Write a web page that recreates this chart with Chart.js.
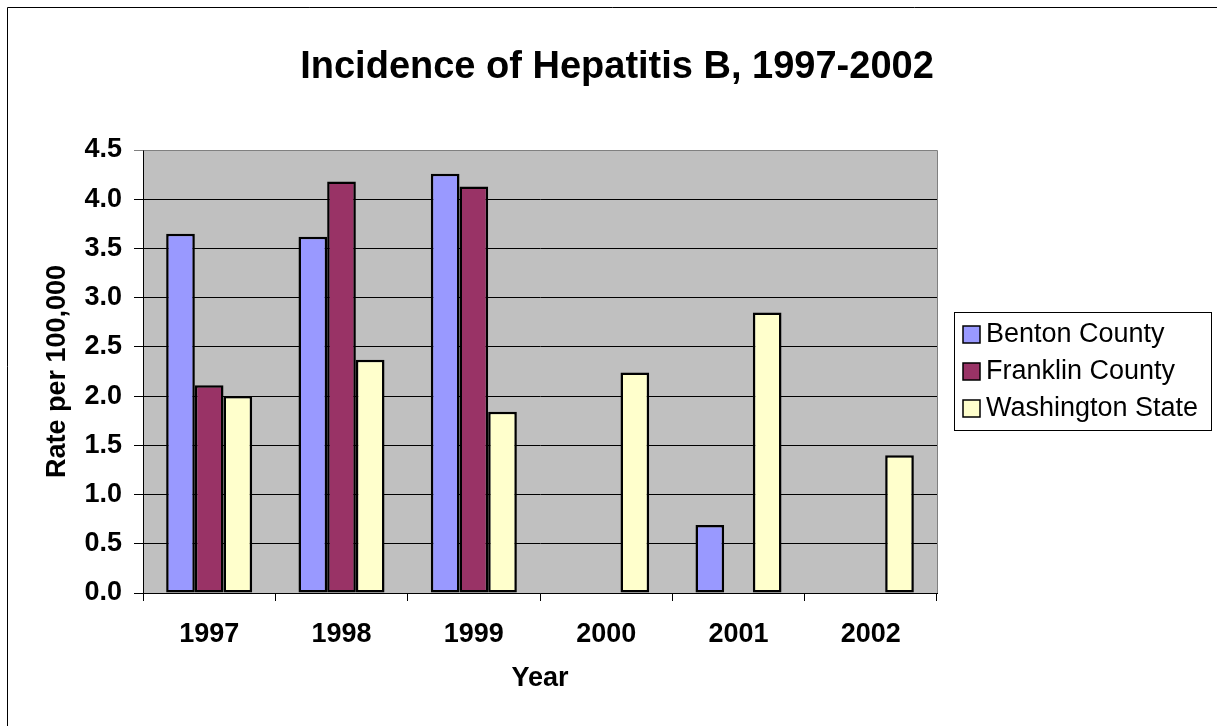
<!DOCTYPE html>
<html>
<head>
<meta charset="utf-8">
<script src="https://cdn.jsdelivr.net/npm/chart.js@4.4.1/dist/chart.umd.min.js"></script>
<style>
  body { margin: 0; background: #fff; }
  #wrap { width: 1217px; height: 726px; }
</style>
</head>
<body>
<div id="wrap"><canvas id="chart" width="1217" height="726"></canvas></div>
<script>
// values (rate per 100,000)
const years = ['1997', '1998', '1999', '2000', '2001', '2002'];
const benton = [3.65, 3.62, 4.26, null, 0.69, null];
const franklin = [2.11, 4.18, 4.13, null, null, null];
const washington = [2.00, 2.37, 1.84, 2.24, 2.85, 1.40];
const yTickValues = [0, 0.5, 1.0, 1.5, 2.0, 2.5, 3.0, 3.5, 4.0, 4.5];

const FONT = '"Liberation Sans", Arial, sans-serif';

// gray plot area, outer frame, title and the boxed legend
const excelLook = {
    id: 'excelLook',
    beforeDraw(chart) {
        const { ctx, chartArea: a } = chart;
        ctx.save();
        ctx.fillStyle = '#fff';
        ctx.fillRect(0, 0, chart.width, chart.height);
        ctx.strokeStyle = '#000';
        ctx.lineWidth = 1;
        ctx.beginPath();
        ctx.moveTo(7.5, chart.height);
        ctx.lineTo(7.5, 7.5);
        ctx.lineTo(chart.width, 7.5);
        ctx.stroke();
        ctx.fillStyle = '#c0c0c0';
        ctx.fillRect(a.left, a.top, a.right - a.left, a.bottom - a.top);
        ctx.restore();
    },
    afterDraw(chart) {
        const { ctx, chartArea: a } = chart;
        ctx.save();
        // top and right edge of plot
        ctx.strokeStyle = '#808080';
        ctx.lineWidth = 1;
        ctx.beginPath();
        ctx.moveTo(Math.round(a.left) + 0.5, Math.round(a.top) + 0.5);
        ctx.lineTo(Math.round(a.right) + 0.5, Math.round(a.top) + 0.5);
        ctx.lineTo(Math.round(a.right) + 0.5, Math.round(a.bottom));
        ctx.stroke();

        // title
        ctx.fillStyle = '#000';
        ctx.font = 'bold 38px ' + FONT;
        ctx.textAlign = 'center';
        ctx.textBaseline = 'middle';
        ctx.fillText('Incidence of Hepatitis B, 1997-2002', 617, 68);

        // legend
        ctx.strokeStyle = '#000';
        ctx.strokeRect(954.5, 312.5, 257, 118);
        ctx.font = '27px ' + FONT;
        ctx.textAlign = 'left';
        chart.data.datasets.forEach((ds, i) => {
            const y = 334 + i * 37;
            ctx.fillStyle = ds.backgroundColor;
            ctx.fillRect(963, y - 8, 17, 17);
            ctx.lineWidth = 1.5;
            ctx.strokeRect(963, y - 8, 17, 17);
            ctx.fillStyle = '#000';
            ctx.fillText(ds.label, 986, y + 1);
        });
        ctx.restore();
    }
};

new Chart(document.getElementById('chart'), {
    type: 'bar',
    data: {
        labels: years,
        datasets: [
            { label: 'Benton County', data: benton, backgroundColor: '#9999ff' },
            { label: 'Franklin County', data: franklin, backgroundColor: '#993366' },
            { label: 'Washington State', data: washington, backgroundColor: '#ffffcc' }
        ]
    },
    options: {
        responsive: false,
        animation: false,
        devicePixelRatio: 1,
        layout: { padding: { left: 0, top: 150, right: 280, bottom: 0 } },
        datasets: {
            bar: {
                borderColor: '#000',
                borderWidth: 2.5,
                borderSkipped: false,
                categoryPercentage: 0.65,
                barPercentage: 1.0
            }
        },
        scales: {
            x: {
                afterFit(scale) { scale.height = 133; },
                grid: { offset: true, drawOnChartArea: false, tickLength: 8, color: '#000' },
                border: { color: '#000', width: 1 },
                ticks: { color: '#000', padding: 17, font: { family: FONT, size: 27, weight: 'bold' } },
                title: {
                    display: true,
                    text: 'Year',
                    color: '#000',
                    padding: { top: 0, bottom: 31 },
                    font: { family: FONT, size: 27, weight: 'bold' }
                }
            },
            y: {
                min: 0,
                max: 4.5,
                afterFit(scale) { scale.width = 143; },
                afterBuildTicks(scale) { scale.ticks = yTickValues.map(v => ({ value: v })); },
                grid: {
                    tickLength: 9,
                    color: ctx => (ctx.tick && ctx.tick.value === 4.5) ? '#808080' : '#000'
                },
                border: { color: '#000', width: 1 },
                ticks: {
                    color: '#000',
                    padding: 12,
                    font: { family: FONT, size: 27, weight: 'bold' },
                    callback: v => Number(v).toFixed(1)
                },
                title: {
                    display: true,
                    text: 'Rate per 100,000',
                    color: '#000',
                    padding: { top: 41, bottom: 0 },
                    font: { family: FONT, size: 27, weight: 'bold' }
                }
            }
        },
        plugins: {
            legend: { display: false },
            tooltip: { enabled: false }
        }
    },
    plugins: [excelLook]
});
</script>
</body>
</html>
